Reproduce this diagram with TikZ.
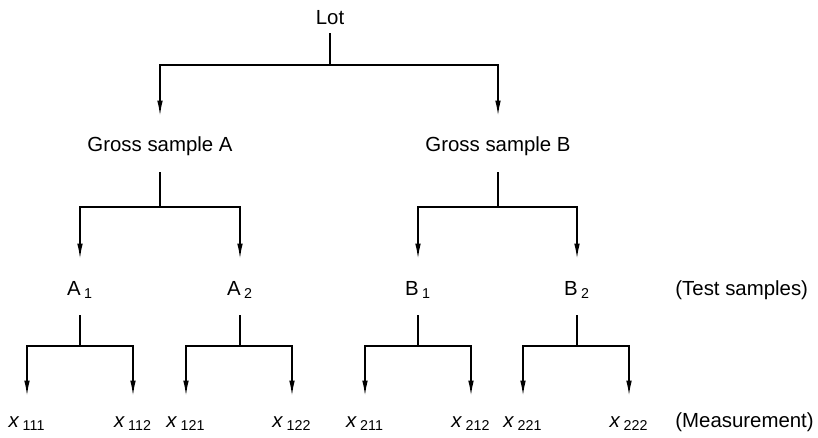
\documentclass[tikz,border=0pt]{standalone}
\usepackage{fontspec}
\setmainfont{Liberation Sans}
\usetikzlibrary{arrows.meta}

\tikzset{
    lbl/.style={inner xsep=0pt, inner ysep=10pt, text height=7.5pt, text depth=0pt,
                font=\fontsize{10.2}{12}\selectfont},
    meas/.style={lbl, text height=5pt},
    branch/.style={line width=0.9pt, -{Latex[length=8pt,width=2.8pt]}}
}

\begin{document}
\begin{tikzpicture}[x=0.5pt, y=-0.5pt]
    \useasboundingbox (0,0) rectangle (818,438);

    % Lot and gross samples
    \node[lbl, inner ysep=4pt] (lot) at (330, 17.5) {Lot};
    \node[lbl] (gsA) at (160, 144.5) {Gross sample A};
    \node[lbl] (gsB) at (498, 144.5) {Gross sample B};

    % Test samples
    \node[lbl] (A1) at (80, 287.5)  {A\,\textsubscript{1}};
    \node[lbl] (A2) at (240, 287.5) {A\,\textsubscript{2}};
    \node[lbl] (B1) at (418, 287.5) {B\,\textsubscript{1}};
    \node[lbl] (B2) at (577, 287.5) {B\,\textsubscript{2}};
    \node[lbl, anchor=west] (tsLabel) at (675, 287.5) {(Test samples)};

    % Measurements
    \foreach \n/\x in {111/27, 112/133, 121/186, 122/292,
                       211/365, 212/471, 221/523, 222/629} {
        \node[meas] (x\n) at (\x, 422) {\textit{x}\,\textsubscript{\n}};
    }
    \node[meas, anchor=west] (msLabel) at (675, 422) {(Measurement)};

    % Fork points
    \coordinate (fLot) at (330, 65);
    \coordinate (fA) at (160, 207);
    \coordinate (fB) at (498, 207);
    \coordinate (fA1) at (80, 346);
    \coordinate (fA2) at (240, 346);
    \coordinate (fB1) at (418, 346);
    \coordinate (fB2) at (577, 346);

    % Branches
    \foreach \src/\fk/\dst in {lot/fLot/gsA, lot/fLot/gsB,
                               gsA/fA/A1, gsA/fA/A2, gsB/fB/B1, gsB/fB/B2,
                               A1/fA1/x111, A1/fA1/x112, A2/fA2/x121, A2/fA2/x122,
                               B1/fB1/x211, B1/fB1/x212, B2/fB2/x221, B2/fB2/x222} {
        \draw[branch] (\src.south) |- (\fk) -| (\dst.north);
    }
\end{tikzpicture}
\end{document}
